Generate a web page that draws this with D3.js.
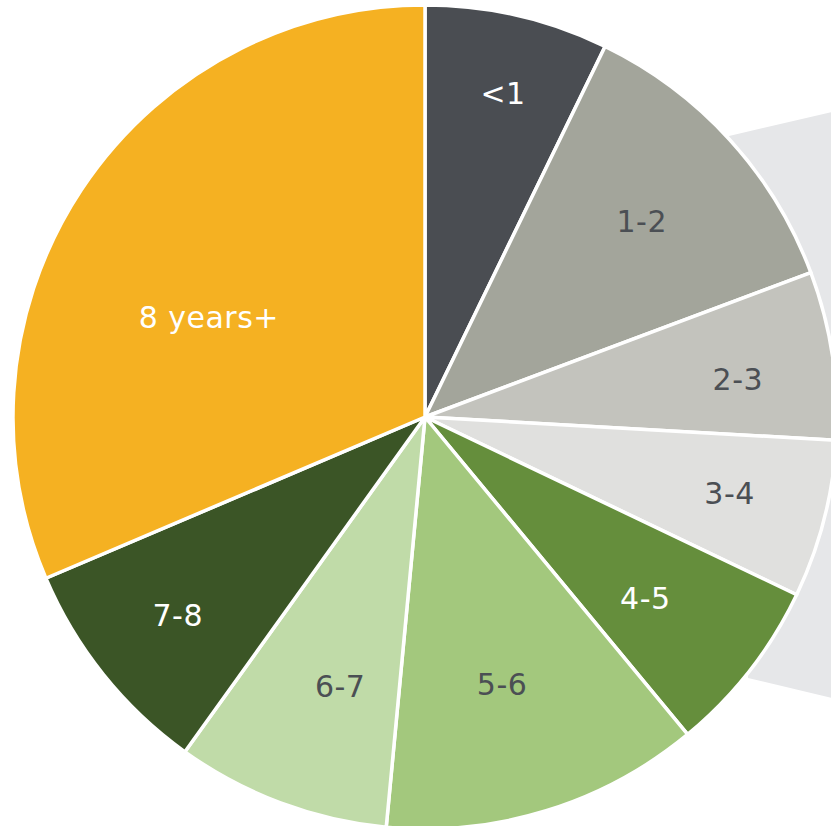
<!DOCTYPE html>
<html>
<head>
<meta charset="utf-8">
<script src="https://cdn.jsdelivr.net/npm/d3@7/dist/d3.min.js"></script>
<style>
  html, body { margin: 0; padding: 0; background: #ffffff; }
  svg { display: block; }
</style>
</head>
<body>
<svg id="chart" width="831" height="826"></svg>
<script>
// ---- data ----
const categories = ["<1", "1-2", "2-3", "3-4", "4-5", "5-6", "6-7", "7-8", "8 years+"];
const values = [7.2, 12.1, 6.6, 6.2, 6.9, 12.5, 8.4, 8.7, 31.4];

// ---- styling / layout ----
const colors = ["#4a4d52", "#a3a59b", "#c3c3bd", "#e0e0de", "#658e3c", "#a3c87d", "#c0dba8", "#3b5526", "#f5b122"];
const textColors = ["#ffffff", "#4b4f54", "#4b4f54", "#4b4f54", "#ffffff", "#4b4f54", "#4b4f54", "#ffffff", "#ffffff"];
const labelRadiusFactor = [0.808, 0.709, 0.765, 0.762, 0.692, 0.675, 0.684, 0.769, 0.578];
const labelAngleOffsetDeg = [0.6, 0.2, 1.7, -0.4, 1.4, 1.0, -3.0, 0, -8.7];

const width = 831, height = 826;
const cx = 425, cy = 417, R = 412;

const svg = d3.select("#chart");

// background callout shape on the right
const callout = [[729, 136], [900, 96], [900, 714], [748, 678]];
svg.append("polygon")
  .attr("points", callout.map(p => p.join(",")).join(" "))
  .attr("fill", "#e6e7e9");

const g = svg.append("g").attr("transform", `translate(${cx},${cy})`);

const pie = d3.pie().sort(null).value(d => d)(values);
const arc = d3.arc().innerRadius(0).outerRadius(R);

g.selectAll("path.slice")
  .data(pie)
  .join("path")
  .attr("class", "slice")
  .attr("d", arc)
  .attr("fill", (d, i) => colors[i])
  .attr("stroke", "#ffffff")
  .attr("stroke-width", 3.5)
  .attr("stroke-linejoin", "round");

g.selectAll("text.lbl")
  .data(pie)
  .join("text")
  .attr("class", "lbl")
  .attr("transform", (d, i) => {
    const a = (d.startAngle + d.endAngle) / 2 + labelAngleOffsetDeg[i] * Math.PI / 180;
    const r = R * labelRadiusFactor[i];
    return `translate(${r * Math.sin(a)},${-r * Math.cos(a)})`;
  })
  .attr("text-anchor", "middle")
  .attr("dy", "0.36em")
  .attr("font-family", "Verdana, 'DejaVu Sans', sans-serif")
  .attr("font-size", 30)
  .attr("letter-spacing", "0.5px")
  .attr("fill", (d, i) => textColors[i])
  .text((d, i) => categories[i]);
</script>
</body>
</html>
